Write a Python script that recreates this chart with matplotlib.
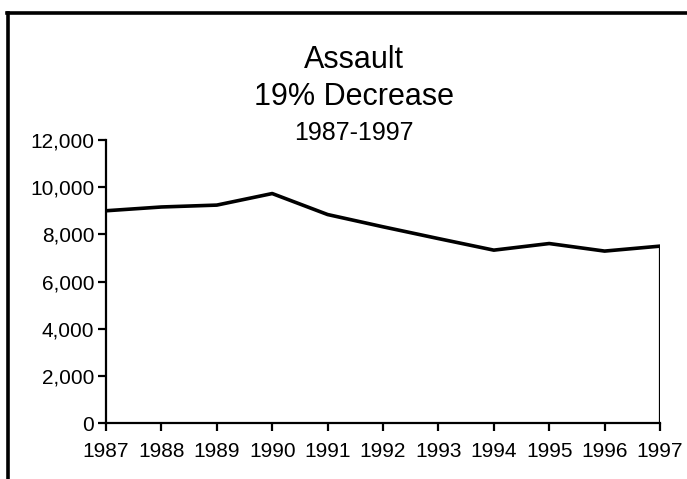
import matplotlib
matplotlib.use("Agg")
import matplotlib.pyplot as plt
from matplotlib.lines import Line2D
from matplotlib.ticker import FuncFormatter

plt.rcParams['font.family'] = ['Liberation Sans', 'DejaVu Sans']

# Data
years = [1987, 1988, 1989, 1990, 1991, 1992, 1993, 1994, 1995, 1996, 1997]
assaults = [9000, 9160, 9240, 9730, 8840, 8320, 7820, 7330, 7610, 7290, 7500]
y_ticks = [0, 2000, 4000, 6000, 8000, 10000, 12000]

fig = plt.figure(figsize=(6.87, 4.79), dpi=100)
ax = fig.add_axes([0.1543, 0.1169, 0.8064, 0.5908])

# Outline of the series (area with white fill)
ax.plot(years, assaults, color='black', lw=2.6, solid_joinstyle='round')
ax.vlines(years[-1], 0, assaults[-1], color='black', lw=1.6)

ax.set_xlim(years[0], years[-1])
ax.set_ylim(0, 12000)
ax.set_xticks(years)
ax.set_yticks(y_ticks)
ax.yaxis.set_major_formatter(FuncFormatter(lambda v, p: f"{int(v):,}"))

for side in ['top', 'right']:
    ax.spines[side].set_visible(False)
for side in ['left', 'bottom']:
    ax.spines[side].set_linewidth(1.6)
ax.tick_params(axis='both', direction='out', length=5.5, width=1.6, labelsize=15)
ax.tick_params(axis='x', pad=8)
ax.tick_params(axis='y', pad=3)

# Titles
fig.text(0.515, 1 - 68 / 479, "Assault", ha='center', va='baseline', fontsize=22)
fig.text(0.515, 1 - 105 / 479, "19% Decrease", ha='center', va='baseline', fontsize=22)
fig.text(0.515, 1 - 140 / 479, "1987-1997", ha='center', va='baseline', fontsize=18)

# Frame around the chart (top and left only)
fig.add_artist(Line2D([0.01, 1.0], [0.972, 0.972], transform=fig.transFigure,
                      color='black', lw=2.6))
fig.add_artist(Line2D([0.011, 0.011], [0.0, 0.972], transform=fig.transFigure,
                      color='black', lw=2.6))

fig.savefig("out.png", dpi=100)
